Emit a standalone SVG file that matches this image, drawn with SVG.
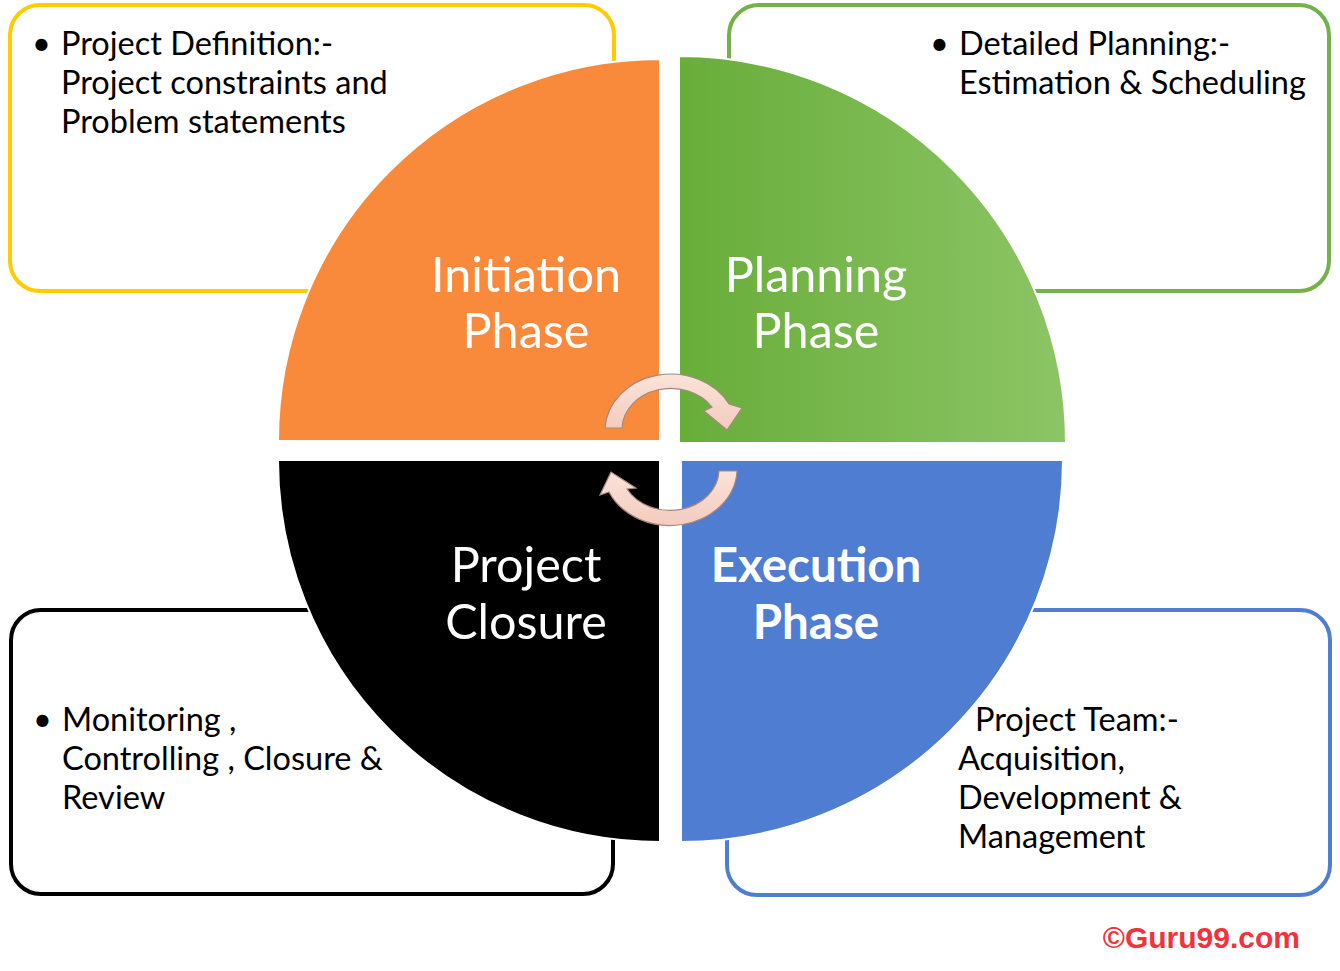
<svg xmlns="http://www.w3.org/2000/svg" width="1340" height="971" viewBox="0 0 1340 971">
<defs>
<linearGradient id="gGreen" x1="0" y1="0" x2="1" y2="0">
<stop offset="0" stop-color="#68AD3A"/>
<stop offset="1" stop-color="#8CC565"/>
</linearGradient>
<linearGradient id="gArrow" x1="0" y1="0" x2="0" y2="1">
<stop offset="0" stop-color="#FBE3DA"/>
<stop offset="1" stop-color="#F3CBBD"/>
</linearGradient>
<style>
.box{fill:#FFFFFF;stroke-width:4}
.quad{stroke:#FFFFFF;stroke-width:2}
.body{font-family:Lato,"Liberation Sans",sans-serif;font-size:32.5px;fill:#000000}
.label{font-family:Lato,"Liberation Sans",sans-serif;font-size:48.5px;fill:#FFFFFF;text-anchor:middle}
.bold{font-weight:bold;font-size:47.5px}
.arrow{fill:url(#gArrow);stroke:#A9877D;stroke-width:1.2}
</style>
</defs>
<rect width="1340" height="971" fill="#FFFFFF"/>

<g id="box-initiation">
<rect class="box" x="10" y="5" width="604" height="286" rx="30" stroke="#FFCC00"/>
<text class="body" x="32" y="55">•</text>
<text class="body" x="61" y="55">Project Definition:-</text>
<text class="body" x="61" y="94">Project constraints and</text>
<text class="body" x="61" y="133">Problem statements</text>
</g>
<g id="box-planning">
<rect class="box" x="729" y="5" width="600" height="286" rx="30" stroke="#74B14A"/>
<text class="body" x="930" y="55">•</text>
<text class="body" x="959" y="55">Detailed Planning:-</text>
<text class="body" x="959" y="94">Estimation &amp; Scheduling</text>
</g>
<g id="box-closure">
<rect class="box" x="11" y="610" width="602" height="284" rx="30" stroke="#000000"/>
<text class="body" x="33" y="731">•</text>
<text class="body" x="62" y="731">Monitoring ,</text>
<text class="body" x="62" y="770">Controlling , Closure &amp;</text>
<text class="body" x="62" y="809">Review</text>
</g>
<g id="box-execution">
<rect class="box" x="727" y="610" width="603" height="285" rx="30" stroke="#4F7ED0"/>
<text class="body" x="975" y="731">Project Team:-</text>
<text class="body" x="958" y="770">Acquisition,</text>
<text class="body" x="958" y="809">Development &amp;</text>
<text class="body" x="958" y="848">Management</text>
</g>

<g id="initiation">
<path class="quad" d="M660 441 L278 441 A382 382 0 0 1 660 59 Z" fill="#F98A3B"/>
<text class="label" x="526" y="292">Initiation</text>
<text class="label" x="526" y="348">Phase</text>
</g>
<g id="planning">
<path class="quad" d="M679 443 L679 56 A387 387 0 0 1 1066 443 Z" fill="url(#gGreen)"/>
<text class="label" x="816" y="292">Planning</text>
<text class="label" x="816" y="348">Phase</text>
</g>
<g id="execution">
<path class="quad" d="M681 460 L1063 460 A382 382 0 0 1 681 842 Z" fill="#4E7DD2"/>
<text class="label bold" x="816" y="582">Execution</text>
<text class="label bold" x="816" y="639">Phase</text>
</g>
<g id="closure">
<path class="quad" d="M660 460 L660 842 A382 382 0 0 1 278 460 Z" fill="#000000"/>
<text class="label" x="526" y="582">Project</text>
<text class="label" x="526" y="639">Closure</text>
</g>

<g id="connectors">
<path class="arrow" d="M605 428 A66 57 0 0 1 729 404 L742 408 L727 430 L704 411 L712 407 A49 41 0 0 0 622 428 Z"/>
<path class="arrow" d="M737 471 A67 57 0 0 1 609 492 L600 495 L611 472 L636 488 L627 489 A49 41 0 0 0 719 471 Z"/>
</g>

<text x="1300" y="948" text-anchor="end" font-family="'Liberation Sans',Arial,sans-serif" font-size="30" font-weight="bold" fill="#F2323C">©Guru99.com</text>
</svg>
